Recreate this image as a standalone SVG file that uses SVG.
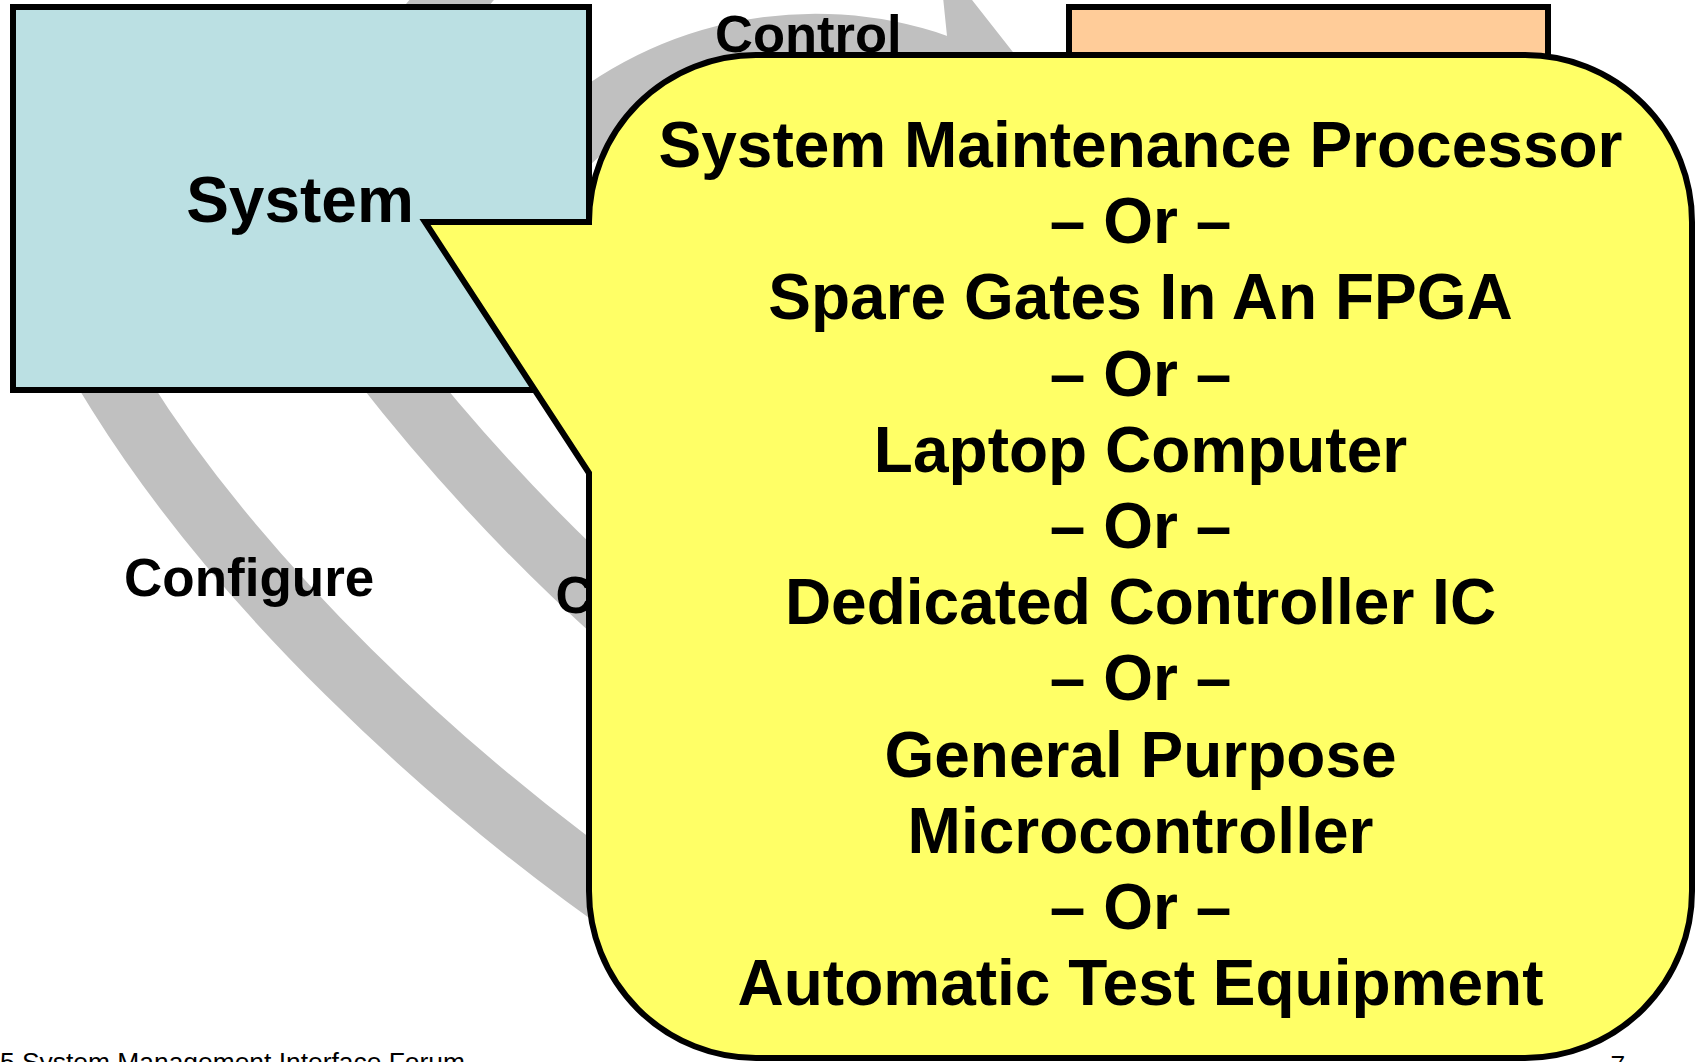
<svg xmlns="http://www.w3.org/2000/svg" width="1699" height="1062" viewBox="0 0 1699 1062">
<defs>
<style>
.conn{fill:none;stroke:#C0C0C0;stroke-width:65;stroke-linecap:butt;stroke-linejoin:round}
.head{fill:#C0C0C0;stroke:none}
.box{stroke:#000;stroke-width:6}
.lbl{font-family:"Liberation Sans",Arial,Helvetica,sans-serif;font-weight:bold;fill:#000}
.big{font-size:64px;text-anchor:middle}
.mid{font-size:52.5px}
.foot{font-family:"Liberation Sans",Arial,Helvetica,sans-serif;font-size:26.4px;fill:#000}
</style>
</defs>
<rect width="1699" height="1062" fill="#FFFFFF"/>
<g id="connectors">
  <path id="arc-top" class="conn" d="M 400 62 L 501.5 -60"/>
  <path id="arc-control" class="conn" d="M 559.2 149.1 A 371 371 0 0 1 936.6 66.6"/>
  <polygon id="arc-control-head" class="head" points="939,-42 1035,80 950,170 900,120 947,36"/>
  <path id="arc-configure" class="conn" d="M 101 363 L 119.5 393 C 236 579.6 438 775 644 917 L 700 955.6"/>
  <path id="arc-c" class="conn" d="M 366.6 340.3 L 382 360 Q 530 550 720 700"/>
</g>
<g id="connector-labels">
  <text class="lbl mid" x="715" y="52">Control</text>
  <text class="lbl" style="font-size:53px" x="124" y="596">Configure</text>
  <text class="lbl mid" x="555.5" y="613">C</text>
</g>
<g id="node-system">
  <rect class="box" x="13" y="7" width="576" height="383" fill="#BBE0E3"/>
  <text class="lbl big" x="300" y="222">System</text>
</g>
<g id="node-controller">
  <rect class="box" x="1069" y="7" width="479" height="150" fill="#FFCC99"/>
</g>
<g id="node-callout">
  <path class="box" fill="#FFFF66" d="M 589 473 L 425 222 L 589 222 A 167 167 0 0 1 756 55 L 1525 55 A 167 167 0 0 1 1692 222 L 1692 891 A 167 167 0 0 1 1525 1058 L 756 1058 A 167 167 0 0 1 589 891 Z"/>
  <text class="lbl big" x="1140.5" y="167">System Maintenance Processor</text>
  <text class="lbl big" x="1140.5" y="243.2">– Or –</text>
  <text class="lbl big" x="1140.5" y="319.4">Spare Gates In An FPGA</text>
  <text class="lbl big" x="1140.5" y="395.6">– Or –</text>
  <text class="lbl big" x="1140.5" y="471.8">Laptop Computer</text>
  <text class="lbl big" x="1140.5" y="548">– Or –</text>
  <text class="lbl big" x="1140.5" y="624.2">Dedicated Controller IC</text>
  <text class="lbl big" x="1140.5" y="700.4">– Or –</text>
  <text class="lbl big" x="1140.5" y="776.6">General Purpose</text>
  <text class="lbl big" x="1140.5" y="852.8">Microcontroller</text>
  <text class="lbl big" x="1140.5" y="929">– Or –</text>
  <text class="lbl big" x="1140.5" y="1005.2">Automatic Test Equipment</text>
</g>
<g id="footer">
  <text class="foot" x="0" y="1070.6">5 System Management Interface Forum</text>
  <text class="foot" x="1610.4" y="1074">7</text>
</g>
</svg>
